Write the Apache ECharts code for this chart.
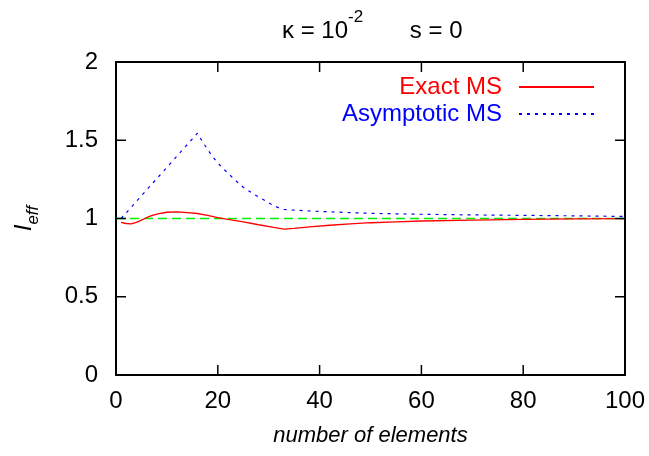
<!DOCTYPE html>
<html>
<head>
<meta charset="utf-8">
<script src="https://cdn.jsdelivr.net/npm/echarts@6/dist/echarts.min.js"></script>
<style>
  html, body { margin: 0; padding: 0; background: #fff; }
  #chart { width: 649px; height: 456px; }
</style>
</head>
<body>
<div id="chart"></div>
<script>
  // Exact MS (red, solid)
  var exactX = [1, 2, 3, 4, 5, 6, 7, 8, 10, 12, 14, 16, 18, 20, 22, 25, 28, 31, 33, 35, 38, 42, 46, 50, 55, 60, 70, 80, 90, 100];
  var exactY = [0.975, 0.968, 0.965, 0.975, 0.99, 1.005, 1.018, 1.028, 1.04, 1.042, 1.038, 1.032, 1.02, 1.006, 0.994, 0.978, 0.96, 0.943, 0.932, 0.937, 0.946, 0.957, 0.966, 0.973, 0.979, 0.984, 0.99, 0.994, 0.997, 0.999];

  // Asymptotic MS (blue, dotted)
  var asymX = [1, 16, 17, 18, 19, 20, 21, 22, 23, 24, 25, 26, 27, 28, 29, 30, 31, 32, 33, 35, 40, 50, 60, 70, 80, 90, 100];
  var asymY = [1.0, 1.545, 1.49, 1.44, 1.395, 1.355, 1.32, 1.29, 1.258, 1.228, 1.2, 1.178, 1.158, 1.138, 1.12, 1.1, 1.082, 1.068, 1.058, 1.053, 1.045, 1.033, 1.027, 1.023, 1.02, 1.017, 1.013];

  // reference line at 1 (green, dashed)
  var refX = [0, 100];
  var refY = [1, 1];

  // tick values (drawn inward on all four sides, gnuplot style)
  var xTicks = [0, 20, 40, 60, 80, 100];
  var yTicks = [0, 0.5, 1, 1.5, 2];
  var xMin = 0, xMax = 100, yMin = 0, yMax = 2;

  function pairs(xs, ys) {
    return xs.map(function (x, i) { return [x, ys[i]]; });
  }

  var font = 'Liberation Sans, Arial, sans-serif';
  var tickLen = 10;
  var chart = echarts.init(document.getElementById('chart'));

  function frame(onZero) {
    return { show: true, onZero: onZero, lineStyle: { color: '#000', width: 2 } };
  }

  // inward tick marks, placed through the chart's own scales
  function xTickItem(params, api) {
    var v = api.value(0);
    var b = api.coord([v, yMin]);
    var t = api.coord([v, yMax]);
    var st = { stroke: '#000', lineWidth: 1.5 };
    return {
      type: 'group',
      children: [
        { type: 'line', shape: { x1: b[0], y1: b[1], x2: b[0], y2: b[1] - tickLen }, style: st },
        { type: 'line', shape: { x1: t[0], y1: t[1], x2: t[0], y2: t[1] + tickLen }, style: st }
      ]
    };
  }
  function yTickItem(params, api) {
    var v = api.value(1);
    var l = api.coord([xMin, v]);
    var r = api.coord([xMax, v]);
    var st = { stroke: '#000', lineWidth: 1.5 };
    return {
      type: 'group',
      children: [
        { type: 'line', shape: { x1: l[0], y1: l[1], x2: l[0] + tickLen, y2: l[1] }, style: st },
        { type: 'line', shape: { x1: r[0], y1: r[1], x2: r[0] - tickLen, y2: r[1] }, style: st }
      ]
    };
  }

  chart.setOption({
    animation: false,
    backgroundColor: '#fff',
    title: {
      text: '{t|κ = 10}{sup|-2}{t|       s = 0}',
      left: 277,
      top: 4,
      textStyle: {
        rich: {
          t: { fontFamily: font, fontSize: 24, fontWeight: 'normal', color: '#000', lineHeight: 34, verticalAlign: 'bottom' },
          sup: { fontFamily: font, fontSize: 17, fontWeight: 'normal', color: '#000', lineHeight: 30, verticalAlign: 'top' }
        }
      }
    },
    legend: [
      {
        data: ['Exact MS'],
        right: 49, top: 70,
        align: 'right',
        itemWidth: 75, itemHeight: 14,
        itemStyle: { opacity: 0 },
        textStyle: { fontFamily: font, fontSize: 24, color: '#ff0000', padding: [0, 12, 0, 0] }
      },
      {
        data: ['Asymptotic MS'],
        right: 49, top: 97,
        align: 'right',
        itemWidth: 75, itemHeight: 14,
        itemStyle: { opacity: 0 },
        textStyle: { fontFamily: font, fontSize: 24, color: '#0000ff', padding: [0, 12, 0, 0] }
      }
    ],
    grid: { left: 116, top: 62, right: 24, bottom: 81 },
    xAxis: [
      {
        type: 'value', min: xMin, max: xMax, interval: 20,
        axisLine: frame(true), axisTick: { show: false }, splitLine: { show: false },
        axisLabel: { margin: 14, fontFamily: font, fontSize: 24, color: '#000' },
        name: 'number of elements',
        nameLocation: 'middle',
        nameGap: 50,
        nameTextStyle: { fontFamily: font, fontSize: 22, fontStyle: 'italic', color: '#000' }
      },
      {
        type: 'value', min: xMin, max: xMax, interval: 20, position: 'top',
        axisLine: frame(false), axisTick: { show: false }, axisLabel: { show: false }, splitLine: { show: false }
      }
    ],
    yAxis: [
      {
        type: 'value', min: yMin, max: yMax, interval: 0.5,
        axisLine: frame(true), axisTick: { show: false }, splitLine: { show: false },
        axisLabel: { margin: 18, fontFamily: font, fontSize: 24, color: '#000' },
        name: '{i|I}{sub|eff}',
        nameLocation: 'middle',
        nameRotate: 90,
        nameGap: 74,
        nameTextStyle: {
          rich: {
            i: { fontFamily: font, fontSize: 24, fontStyle: 'italic', color: '#000', lineHeight: 30, verticalAlign: 'top' },
            sub: { fontFamily: font, fontSize: 17, fontStyle: 'italic', color: '#000', lineHeight: 30, verticalAlign: 'bottom' }
          }
        }
      },
      {
        type: 'value', min: yMin, max: yMax, interval: 0.5, position: 'right',
        axisLine: frame(false), axisTick: { show: false }, axisLabel: { show: false }, splitLine: { show: false }
      }
    ],
    series: [
      {
        name: 'Exact MS', type: 'line', symbol: 'none',
        data: pairs(exactX, exactY),
        lineStyle: { color: '#ff0000', width: 1.3 },
        itemStyle: { color: '#ff0000' },
        z: 3
      },
      {
        name: 'Asymptotic MS', type: 'line', symbol: 'none',
        data: pairs(asymX, asymY),
        lineStyle: { color: '#0000ff', width: 1.2, type: [3, 5] },
        itemStyle: { color: '#0000ff' },
        z: 3
      },
      {
        name: 'ref', type: 'line', symbol: 'none',
        data: pairs(refX, refY),
        lineStyle: { color: '#00ee00', width: 1.5, type: [9, 5] },
        itemStyle: { color: '#00ee00' },
        z: 2
      },
      {
        name: 'xticks', type: 'custom', silent: true, clip: false, z: 5,
        renderItem: xTickItem,
        encode: { x: 0, y: 1 },
        data: xTicks.map(function (v) { return [v, yMin]; })
      },
      {
        name: 'yticks', type: 'custom', silent: true, clip: false, z: 5,
        renderItem: yTickItem,
        encode: { x: 0, y: 1 },
        data: yTicks.map(function (v) { return [xMin, v]; })
      }
    ]
  });
</script>
</body>
</html>
